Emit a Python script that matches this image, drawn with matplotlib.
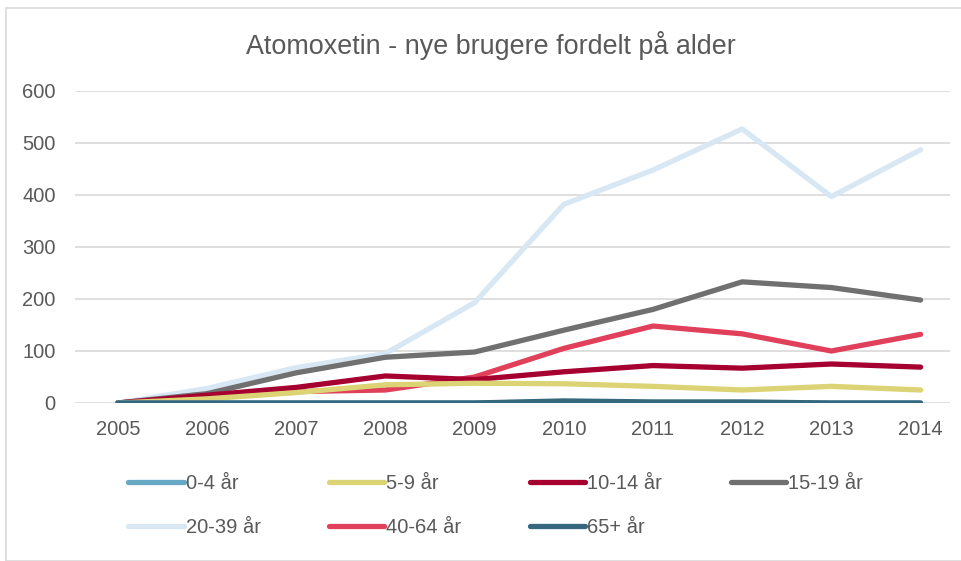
import matplotlib
matplotlib.use("Agg")
import matplotlib.pyplot as plt
from matplotlib.patches import Rectangle

plt.rcParams['font.family'] = ['Liberation Sans', 'DejaVu Sans']

years = [2005, 2006, 2007, 2008, 2009, 2010, 2011, 2012, 2013, 2014]
labels = ["0-4 år", "5-9 år", "10-14 år", "15-19 år", "20-39 år", "40-64 år", "65+ år"]
age_0_4 = [0, 0, 0, 0, 0, 2, 1, 1, 0, 0]
age_5_9 = [0, 8, 20, 35, 38, 37, 32, 25, 32, 25]
age_10_14 = [0, 15, 30, 52, 45, 60, 72, 67, 75, 69]
age_15_19 = [0, 18, 58, 88, 98, 140, 180, 233, 222, 198]
age_20_39 = [0, 28, 68, 95, 193, 382, 448, 527, 397, 487]
age_40_64 = [0, 10, 22, 25, 50, 105, 148, 133, 100, 132]
age_65 = [0, 0, 0, 0, 0, 4, 2, 2, 0, 0]
series = [age_0_4, age_5_9, age_10_14, age_15_19, age_20_39, age_40_64, age_65]
colors = ["#67a8c5", "#dcd374", "#a50030", "#707070", "#d7e7f3", "#e0405a", "#35687f"]

W, H = 962, 561
fig = plt.figure(figsize=(W / 100, H / 100), dpi=100)
fig.patches.append(Rectangle((6 / W, 0), 1, 1 - 8 / H, transform=fig.transFigure,
                             fill=False, edgecolor="#d9d9d9", linewidth=1.2))

ax = fig.add_axes([75 / W, 1 - 403 / H, (950 - 75) / W, (403 - 91) / H])

# draw order: back to front as in the original
order = [4, 3, 5, 2, 1, 0, 6]
handles = {}
for i in order:
    ln, = ax.plot(years, series[i], color=colors[i], linewidth=3.8,
                  solid_capstyle="round", solid_joinstyle="round", label=labels[i])
    handles[i] = ln

ax.set_xlim(2004.52, 2014.33)
ax.set_ylim(0, 600)
ax.set_yticks(range(0, 601, 100))
ax.set_xticks(years)
ax.grid(axis="y", color="#d9d9d9", linewidth=1.2)
ax.set_axisbelow(True)
for s in ax.spines.values():
    s.set_visible(False)
ax.tick_params(length=0, labelsize=14.5, labelcolor="#595959")
ax.tick_params(axis="x", pad=12)
ax.tick_params(axis="y", pad=14)

fig.text(491 / W, 1 - 46 / H, "Atomoxetin - nye brugere fordelt på alder",
         ha="center", va="center", fontsize=19.4, color="#595959")

# legend filled column by column -> reorder so rows read left to right
leg_order = [0, 4, 1, 5, 2, 6, 3]
leg = fig.legend([handles[i] for i in leg_order], [labels[i] for i in leg_order], ncol=4,
                 loc="upper left", bbox_to_anchor=(110 / W, 1 - 456 / H),
                 frameon=False, fontsize=14.5, handlelength=2.75, handletextpad=0.1,
                 columnspacing=3.4, labelspacing=1.25, labelcolor="#595959")

fig.savefig("out.png", dpi=100)
